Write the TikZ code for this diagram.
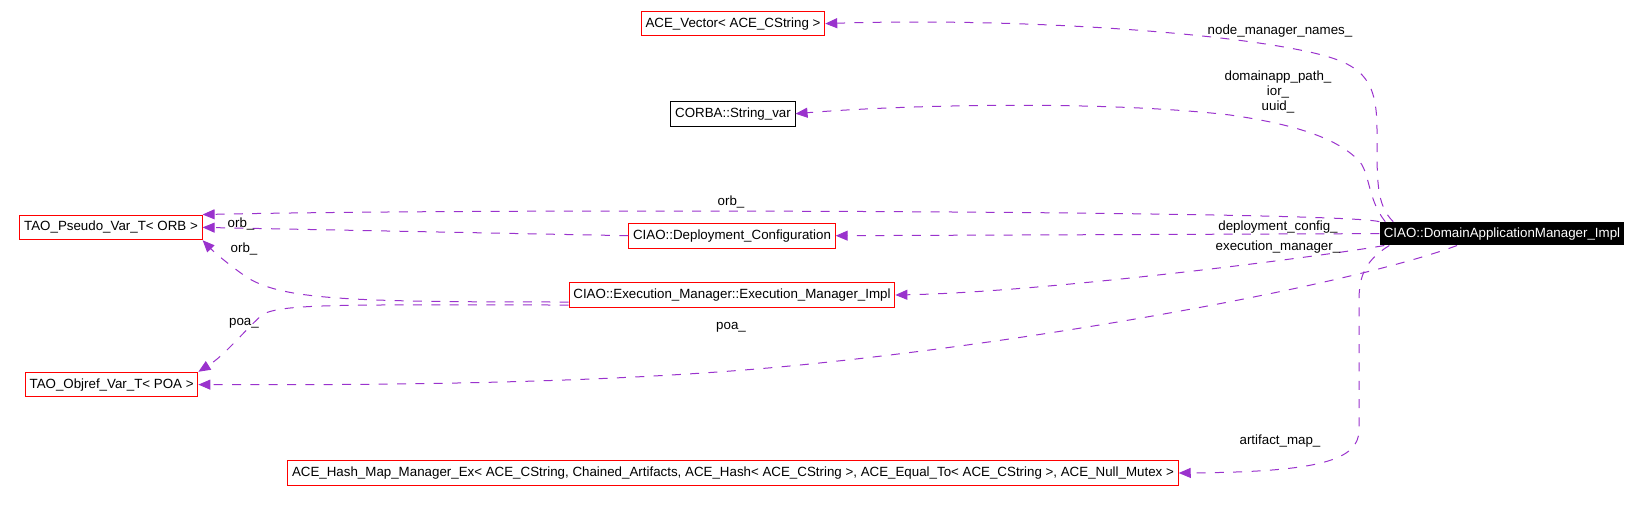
\documentclass[tikz,border=0pt]{standalone}
\usepackage{fontspec}
\setmainfont{Liberation Sans}
\usetikzlibrary{arrows.meta}

\definecolor{edgecol}{HTML}{9A32CD}

\begin{document}
\begin{tikzpicture}[x = 0.75pt, y = -0.75pt,
        font = \fontsize{10pt}{11pt}\selectfont,
        cls/.style = {draw = red, line width = 0.75pt, inner xsep = 3.2pt, inner ysep = 0pt, minimum height = 18.5pt},
        plain/.style = {cls, draw = black},
        focus/.style = {fill = black, text = white, inner xsep = 3.2pt, inner ysep = 0pt, minimum height = 17.5pt},
        dep/.style = {draw = edgecol, line width = 0.75pt, dash pattern = on 6.75pt off 7pt, -{Triangle[length = 9pt, width = 7.5pt, fill = edgecol]}},
        lbl/.style = {inner sep = 0pt, align = center}]

        \useasboundingbox (0, 0) rectangle (1643, 504);

        % Class boxes.
        \node[cls] (vec) at (733, 23.6) {ACE\_Vector< ACE\_CString >};
        \node[plain] (corba) at (733, 113.7) {CORBA::String\_var};
        \node[cls] (pseudo) at (111, 227.4) {TAO\_Pseudo\_Var\_T< ORB >};
        \node[cls] (deploy) at (732, 235.7) {CIAO::Deployment\_Configuration};
        \node[cls] (exec) at (732, 295) {CIAO::Execution\_Manager::Execution\_Manager\_Impl};
        \node[cls] (objref) at (111.6, 384.6) {TAO\_Objref\_Var\_T< POA >};
        \node[cls] (hash) at (733, 473) {ACE\_Hash\_Map\_Manager\_Ex< ACE\_CString, Chained\_Artifacts, ACE\_Hash< ACE\_CString >, ACE\_Equal\_To< ACE\_CString >, ACE\_Null\_Mutex >};

        % The class whose members are shown.
        \node[focus] (main) at (1502, 233.6) {CIAO::DomainApplicationManager\_Impl};

        % Member edges leaving the top of the main class.
        \draw[dep] ([shift = {(14, 0)}]main.north west) .. controls (1376, 205) and (1377, 180) .. (1377, 130)
            .. controls (1377, 75) and (1360, 62) .. (1300, 50) .. controls (1200, 30) and (1000, 18) .. (vec.east);
        \draw[dep] ([shift = {(6, 0)}]main.north west) .. controls (1368, 200) and (1370, 175) .. (1360, 162)
            .. controls (1340, 140) and (1300, 125) .. (1230, 115) .. controls (1100, 100) and (900, 105) .. (corba.east);
        \draw[dep] (main.north west) .. controls (1340, 211) and (500, 208) .. (pseudo.north east);

        % Member edges leaving the left side.
        \draw[dep] (main.west) -- (deploy.east);
        \draw[dep] ([shift = {(5, 0)}]main.south west) .. controls (1330, 255) and (1050, 292) .. (exec.east);

        % Edges between the helper classes.
        \draw[dep] (deploy.west) -- (pseudo.east);
        \draw[dep] ([shift = {(0, 7)}]exec.west) .. controls (350, 302) and (280, 300) .. (245, 276)
            .. controls (225, 262) and (212, 250) .. (pseudo.south east);
        \draw[dep] ([shift = {(0, 10)}]exec.west) .. controls (350, 305) and (280, 303) .. (262, 315)
            .. controls (245, 330) and (225, 355) .. (objref.north east);

        % Member edges leaving the bottom.
        \draw[dep] ([shift = {(-45, 0)}]main.south) .. controls (1350, 285) and (1050, 340) .. (800, 365)
            .. controls (600, 385) and (350, 385) .. (objref.east);
        \draw[dep] ([shift = {(10, 0)}]main.south west) .. controls (1366, 260) and (1359, 275) .. (1359, 300)
            -- (1359, 430) .. controls (1359, 460) and (1320, 472) .. (hash.east);

        % Edge labels.
        \node[lbl] (lnames) at (1280, 31) {node\_manager\_names\_};
        \node[lbl] (lpath) at (1278, 92) {domainapp\_path\_\\ior\_\\uuid\_};
        \node[lbl] (lorbtop) at (731, 202) {orb\_};
        \node[lbl] (lconfig) at (1278, 227) {deployment\_config\_};
        \node[lbl] (lorbdep) at (241, 224) {orb\_};
        \node[lbl] (lexec) at (1278, 247) {execution\_manager\_};
        \node[lbl] (lorbexec) at (244, 249) {orb\_};
        \node[lbl] (lpoaexec) at (244, 323) {poa\_};
        \node[lbl] (lpoa) at (731, 327) {poa\_};
        \node[lbl] (lmap) at (1280, 441) {artifact\_map\_};
    \end{tikzpicture}
\end{document}
